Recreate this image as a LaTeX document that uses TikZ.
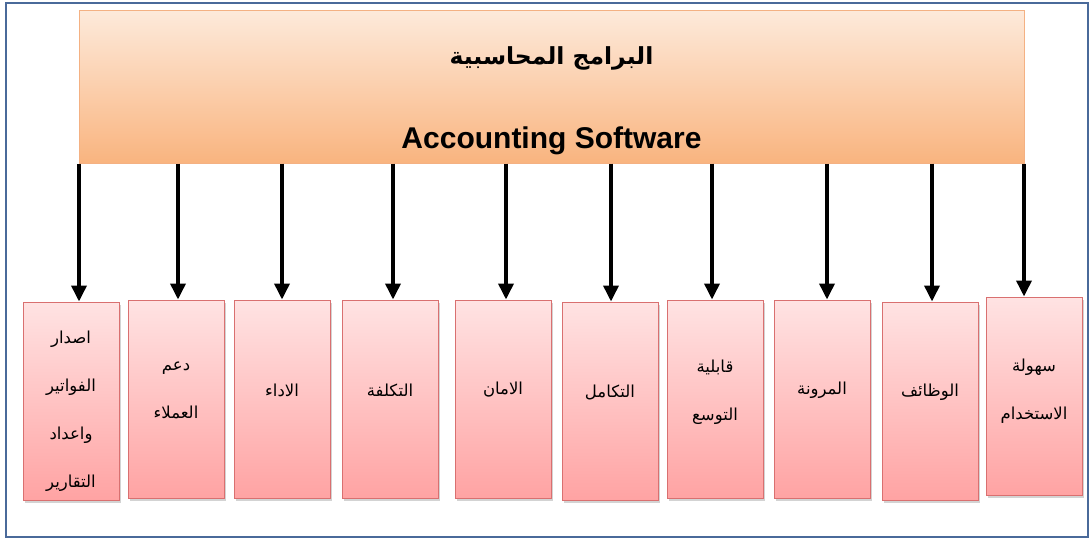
\documentclass[tikz,border=0pt]{standalone}
\usepackage{fontspec}
\setmainfont{Liberation Sans}
\newfontfamily\arabicfont[Script=Arabic]{DejaVu Sans}
\TeXXeTstate=1
\usepackage{tikz}
\usetikzlibrary{positioning,shadows,arrows.meta}

\definecolor{topA}{HTML}{FDEADB}
\definecolor{topB}{HTML}{F9B47F}
\definecolor{topline}{HTML}{F4B183}
\definecolor{itemA}{HTML}{FFE3E3}
\definecolor{itemB}{HTML}{FFA3A3}
\definecolor{itemline}{HTML}{D97070}
\definecolor{framecol}{HTML}{4A6A9A}

\newcommand{\artxt}[1]{{\arabicfont\beginR #1\endR}}

\begin{document}
\begin{tikzpicture}[x=1pt, y=-1pt,
    topbox/.style={draw=topline, line width=1pt, top color=topA, bottom color=topB, minimum width=945, minimum height=153, inner sep=0pt},
    itembox/.style={draw=itemline, line width=1pt, top color=itemA, bottom color=itemB, minimum width=96, minimum height=198, inner sep=0pt,
        drop shadow={opacity=0.35, shadow xshift=1.5pt, shadow yshift=-3pt}},
    itemtext/.style={align=center, font=\fontsize{16.5}{48}\selectfont},
    arr/.style={line width=3.6pt, -{Triangle[length=16pt, width=15pt]}}]
  \useasboundingbox (0,0) rectangle (1092,539);
  \draw[framecol, line width=2.5pt] (6,3) rectangle (1088,537);

  \node[topbox] (soft) at (551.5,86.5) {};
  \node[align=center] (title) at ([yshift=-14pt]soft.center)
    {\artxt{\fontsize{23.5}{23.5}\selectfont\bfseries البرامج المحاسبية}\\[56pt]
     {\fontsize{30}{30}\selectfont\bfseries Accounting Software}};

  \foreach \cx/\cy/\ty/\ax/\txt [count=\i] in {
      71/401/-10/79/{\artxt{اصدار}\\\artxt{الفواتير}\\\artxt{واعداد}\\\artxt{التقارير}},
      176/399/9/178/{\artxt{دعم}\\\artxt{العملاء}},
      282/399/9/282/{\artxt{الاداء}},
      390/399/9/393/{\artxt{التكلفة}},
      503/399/9/506/{\artxt{الامان}},
      610/401/9/611/{\artxt{التكامل}},
      715/399/7/712/{\artxt{قابلية}\\\artxt{التوسع}},
      822/399/9/827/{\artxt{المرونة}},
      930/401/9/932/{\artxt{الوظائف}},
      1034/396/5/1024/{\artxt{سهولة}\\\artxt{الاستخدام}}}
  {
    \node[itembox] (b\i) at (\cx,\cy) {};
    \node[itemtext] (t\i) at ([yshift=\ty pt]b\i.center) {\txt};
    \draw[arr] (soft.south -| \ax,0) -- (b\i.north -| \ax,0);
  }
\end{tikzpicture}
\end{document}
